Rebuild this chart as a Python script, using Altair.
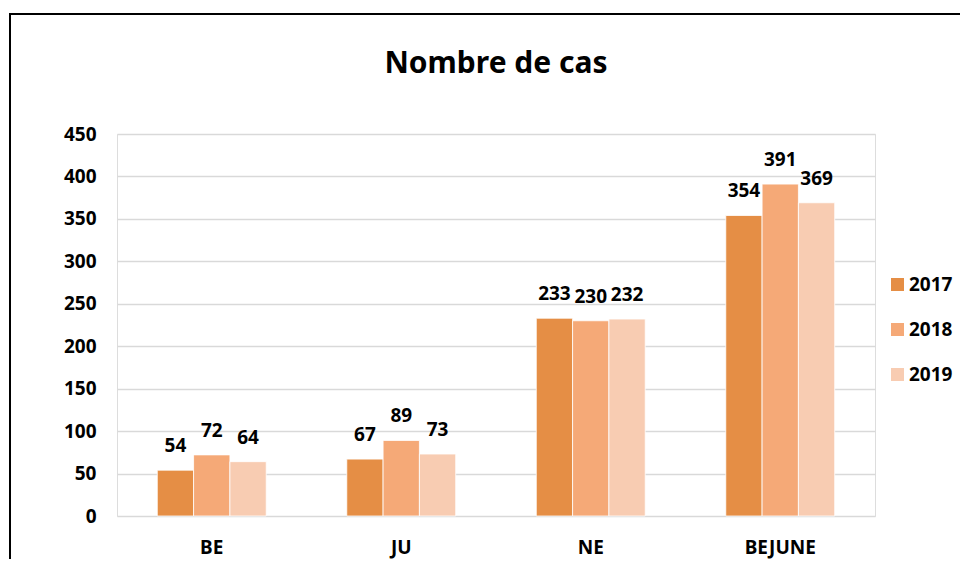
import altair as alt
import pandas as pd

regions = ["BE", "JU", "NE", "BEJUNE"]
years = ["2017", "2018", "2019"]
v2017 = [54, 67, 233, 354]
v2018 = [72, 89, 230, 391]
v2019 = [64, 73, 232, 369]
colors = ["#E58E45", "#F5A977", "#F8CCB2"]
y_ticks = [0, 50, 100, 150, 200, 250, 300, 350, 400, 450]
title_text = "Nombre de cas"

rows = []
for i, r in enumerate(regions):
    for y, vals in zip(years, [v2017, v2018, v2019]):
        rows.append({"region": r, "year": y, "value": vals[i]})
df = pd.DataFrame(rows)

FONT = "Noto Sans"

x = alt.X("region:N", sort=regions,
          scale=alt.Scale(paddingInner=0.425, paddingOuter=0.2125),
          axis=alt.Axis(title=None, labelAngle=0, domain=False, ticks=False,
                        labelPadding=22, labelFontSize=19, labelFontWeight="bold",
                        labelColor="#000000", labelFont=FONT))
y = alt.Y("value:Q", scale=alt.Scale(domain=[0, 450], nice=False),
          axis=alt.Axis(title=None, values=y_ticks, domain=False, ticks=False,
                        labelPadding=21, labelFontSize=19, labelFontWeight="bold",
                        labelColor="#000000", labelFont=FONT,
                        gridColor="#D9D9D9", gridWidth=1.5))
color = alt.Color("year:N", scale=alt.Scale(domain=years, range=colors),
                  legend=alt.Legend(title=None, orient="none", legendX=771, legendY=141,
                                    symbolType="square", symbolSize=169,
                                    symbolStrokeWidth=0, labelFontSize=19,
                                    labelFontWeight="bold", labelFont=FONT,
                                    labelColor="#000000", rowPadding=25,
                                    labelOffset=2))
xoff = alt.XOffset("year:N", sort=years)

base = alt.Chart(df)
bars = base.mark_bar(stroke="white", strokeWidth=0.8).encode(x=x, y=y, color=color, xOffset=xoff)
labels = base.mark_text(baseline="alphabetic", dy=-18, fontSize=19, fontWeight="bold",
                        font=FONT, color="#000000").encode(
    x=x, y=y, xOffset=xoff, text="value:Q")

one = pd.DataFrame({"a": [0]})
border_left = alt.Chart(one).mark_rect(fill="#000000", strokeWidth=0).encode(
    x=alt.value(-108), x2=alt.value(-106), y=alt.value(-121), y2=alt.value(425))
border_top = alt.Chart(one).mark_rect(fill="#000000", strokeWidth=0).encode(
    x=alt.value(-108), x2=alt.value(843), y=alt.value(-121), y2=alt.value(-119))

title = alt.Chart(pd.DataFrame({"t": [title_text]})).mark_text(
    fontSize=30, fontWeight="bold", font=FONT, color="#000000",
    baseline="alphabetic", align="center").encode(
    x=alt.value(379), y=alt.value(-61), text="t:N")

chart = alt.layer(border_left, border_top, bars, labels, title).properties(
    width=758, height=382,
    autosize=alt.AutoSizeParams(type="none"),
    padding={"left": 109, "top": 126, "right": 85, "bottom": 43},
).configure_view(stroke=None).configure(background="white")

chart.save("out.html", embed_options={"renderer": "svg", "actions": False})
